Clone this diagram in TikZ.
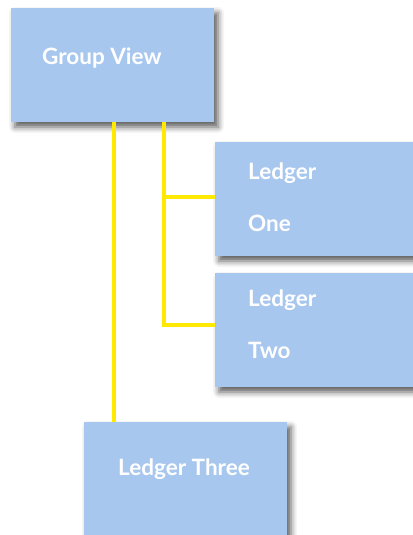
\documentclass[tikz,border=0pt]{standalone}
\usepackage{fontspec}
\setmainfont{Lato}
\usepackage{xcolor}
\usepackage{tikz}
\usetikzlibrary{shadows.blur}
\definecolor{boxblue}{HTML}{A8C7EE}
\definecolor{wireyellow}{HTML}{FFE900}
\tikzset{ledgerbox/.style={rectangle,fill=boxblue,minimum width=203pt,minimum height=114pt,inner sep=0pt,
           blur shadow={shadow xshift=4pt,shadow yshift=-5pt,shadow blur radius=6pt,shadow opacity=65}},
         ledgertext/.style={text=white,anchor=west,inner sep=0pt,font=\fontsize{22.5}{27}\selectfont\bfseries},
         wire/.style={draw=wireyellow,line width=4pt}}

\begin{document}
\begin{tikzpicture}[x=1pt,y=-1pt]
\useasboundingbox (0,0) rectangle (412,535);
% boxes
\node[ledgerbox] (gv) at (112.5,65) {};
\node[ledgerbox] (l1) at (316.5,199) {};
\node[ledgerbox] (l2) at (316.5,330) {};
\node[ledgerbox] (l3) at (185.5,479) {};
% texts
\node[ledgertext] (gvtext) at (42,58) {Group View};
\node[ledgertext] (l1top) at (248,173) {Ledger};
\node[ledgertext] (l1bot) at (248,223) {One};
\node[ledgertext] (l2top) at (248,300) {Ledger};
\node[ledgertext] (l2bot) at (248,350) {Two};
\node[ledgertext,anchor=center] (l3text) at (184,469) {Ledger Three};
% connectors
\coordinate (left) at ([xshift=103pt]gv.south west);
\coordinate (right) at ([xshift=153pt]gv.south west);
\draw[wire] (left) -- (left |- l3.north);
\draw[wire] (right) |- ([yshift=5pt]l2.west);
\draw[wire] ([yshift=2pt]l1.west) -- ([yshift=2pt]l1.west -| right);
\end{tikzpicture}
\end{document}
